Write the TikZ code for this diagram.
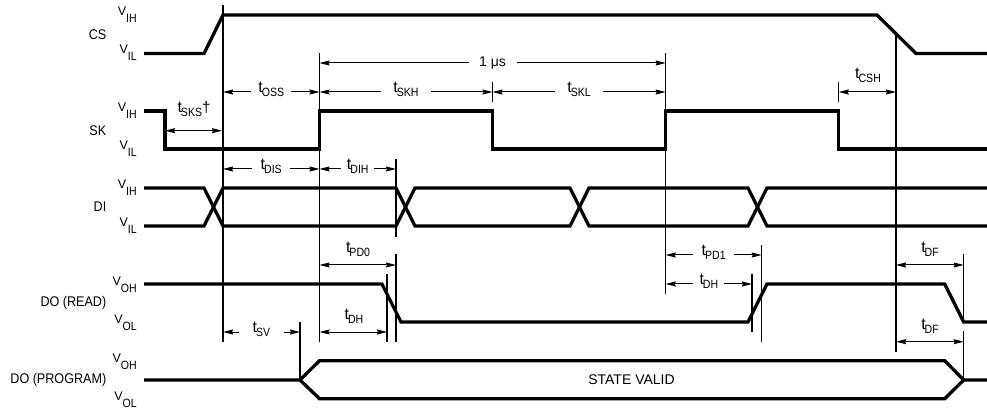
\documentclass[tikz,border=0pt]{standalone}
\usepackage{fontspec}
\setmainfont{Liberation Sans}
\usetikzlibrary{arrows.meta}

\newfontfamily\subfont[FakeStretch=0.88]{Liberation Sans}
\newfontfamily\namefont[FakeStretch=0.9]{Liberation Sans}
\newcommand{\tsig}[1]{{\fontsize{16}{16}\selectfont t}\hspace{-1pt}\raisebox{-4pt}{\fontsize{12}{12}\subfont #1}}
\newcommand{\vsig}[1]{{\fontsize{12.5}{14}\selectfont V}\raisebox{-7pt}{\fontsize{12}{12}\subfont #1}}

\tikzset{%
	wave/.style={line width=3.3pt, miter limit=10},
	guide/.style={line width=1.1pt},
	dim/.style={line width=1pt, <->},
	signal/.style={anchor=east, inner sep=0pt, font=\fontsize{14}{16}\namefont},
	level/.style={anchor=east, inner sep=0pt},
	gaplabel/.style={fill=white, inner xsep=0pt, inner ysep=0pt, yshift=2.5pt},
	toplabel/.style={inner sep=0pt},
}

\begin{document}
\begin{tikzpicture}[x=1pt, y=-1pt, >={Stealth[length=10pt, width=5pt, inset=1pt]}]
	\useasboundingbox (0,0) rectangle (987,411);

	% draw guide lines
	\foreach \n/\x/\a/\b in {a/223/5/342, b/319.5/53/342, c/396/159/237, cc/396/254/342,
		d/492.5/82/102, e/665.7/53/294, f/838.7/82/102, g/896/35/352, h/752/274/332,
		i/761.7/245/342, j/963.7/254/320, jj/963.7/331/379, k/387/274/342, m/300/322/380}
	{
		\coordinate (\n-top) at (\x,\a);
		\coordinate (\n-bot) at (\x,\b);
		\draw [guide] (\n-top) -- (\n-bot);
	}

	% draw waveforms
	\draw [wave] (144,53.5) -- (204,53.5) -- (223,15) -- (877,15) -- (916,53.5) -- (987,53.5);
	\draw [wave] (144,111) -- (165,111) -- (165,149) -- (319.5,149) -- (319.5,111) -- (492.5,111)
		-- (492.5,149) -- (665.7,149) -- (665.7,111) -- (838.7,111) -- (838.7,149) -- (987,149);
	\draw [wave] (144,188) -- (204,188) -- (223,226) -- (396,226) -- (415,188) -- (570,188)
		-- (589,226) -- (748,226) -- (767,188) -- (987,188);
	\draw [wave] (144,226) -- (204,226) -- (223,188) -- (396,188) -- (415,226) -- (570,226)
		-- (589,188) -- (748,188) -- (767,226) -- (987,226);
	\draw [wave] (144,284) -- (382,284) -- (401,322) -- (748,322) -- (767,284) -- (944.7,284)
		-- (963.7,322) -- (987,322);
	\draw [wave] (144,380) -- (300,380) -- (319.5,360.7) -- (944.7,360.7) -- (963.7,380) -- (987,380);
	\draw [wave] (300,380) -- (319.5,398.7) -- (944.7,398.7) -- (963.7,380);

	% annotate signals
	\foreach \n/\y/\l in {cs/35/CS, sk/131/SK, di/207/DI, read/303/DO (READ), program/380/DO (PROGRAM)}
	\node [signal] (signal-\n) at (106.5,\y) {\l};

	% annotate levels
	\foreach \n/\y/\l in {1/15/IH, 2/53/IL, 3/111/IH, 4/149/IL, 5/188/IH, 6/226/IL,
		7/285/OH, 8/323/OL, 9/362/OH, 10/400/OL}
	\node [level] (level-\n) at (137,\y) {\vsig{\l}};

	% draw dimensions with the label in the line
	\foreach \n/\a/\b/\y/\g/\l in {oss/223/319.5/92/40/\tsig{OSS}, skh/319.5/492.5/92/50/\tsig{SKH},
		skl/492.5/665.7/92/48/\tsig{SKL}, dis/223/319.5/169/38/\tsig{DIS}, dih/319.5/396/169/33/\tsig{DIH},
		sv/223/300/332/45/\tsig{SV}, pdone/665.7/761.7/255/41/\tsig{PD1}, dhb/665.7/752/284/31/\tsig{DH}}
	{
		\coordinate (\n-left) at (\a,\y);
		\coordinate (\n-right) at (\b,\y);
		\draw [dim] (\n-left) -- node [gaplabel, minimum width=\g pt] (label-\n) {\l} (\n-right);
	}
	\coordinate (us-left) at (319.5,63);
	\coordinate (us-right) at (665.7,63);
	\draw [dim] (us-left) -- node [fill=white, inner ysep=0pt, inner xsep=0pt, minimum width=48pt, font=\fontsize{14}{16}\selectfont] (label-us) {1 μs} (us-right);

	% draw dimensions with the label above
	\foreach \n/\a/\b/\y/\lx/\ly/\l in {sks/165/222/130.7/194/109/\tsig{SKS}{\fontsize{15}{15}\selectfont†},
		csh/838.7/896/92/868/75/\tsig{CSH}, pdzero/319.5/396/265/358/249/\tsig{PD0},
		dha/319.5/387/332/354/316.5/\tsig{DH}, dfa/896/963.7/265/930/249/\tsig{DF},
		dfb/896/963.7/341.7/930/326/\tsig{DF}}
	{
		\coordinate (\n-left) at (\a,\y);
		\coordinate (\n-right) at (\b,\y);
		\draw [dim] (\n-left) -- (\n-right);
		\node [toplabel] (label-\n) at (\lx,\ly) {\l};
	}

	% annotate bus
	\node [inner sep=0pt, font=\fontsize{14}{16}\selectfont] (label-valid) at (631.5,380) {STATE VALID};
\end{tikzpicture}
\end{document}
